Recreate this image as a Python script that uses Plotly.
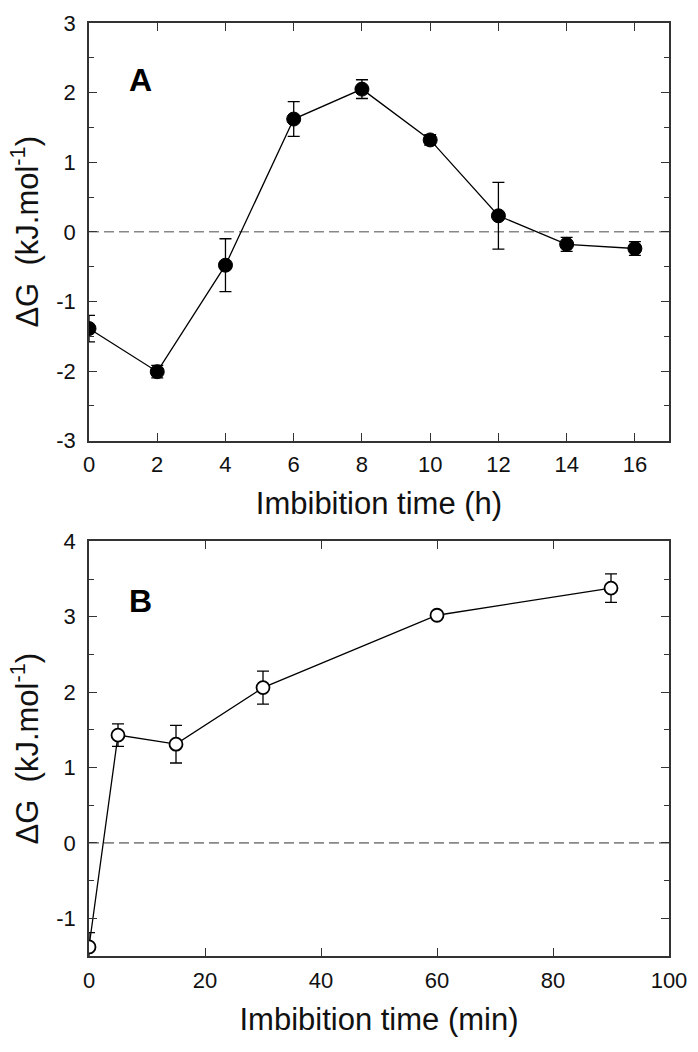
import plotly.graph_objects as go

# ---- Data ----
hours = [0, 2, 4, 6, 8, 10, 12, 14, 16]
dg_hours = [-1.39, -2.01, -0.48, 1.62, 2.05, 1.32, 0.23, -0.18, -0.24]
err_hours = [0.19, 0.09, 0.38, 0.25, 0.135, 0.075, 0.48, 0.10, 0.10]

minutes = [0, 5, 15, 30, 60, 90]
dg_minutes = [-1.38, 1.43, 1.31, 2.06, 3.02, 3.38]
err_minutes = [0.19, 0.15, 0.25, 0.22, 0.03, 0.19]

# tick values / labels (hyphen minus as in the reference)
xticks_a = [0, 2, 4, 6, 8, 10, 12, 14, 16]
yticks_a = [-3, -2, -1, 0, 1, 2, 3]
yticklabels_a = ["-3", "-2", "-1", "0", "1", "2", "3"]
xticks_b = [0, 20, 40, 60, 80, 100]
yticks_b = [-1, 0, 1, 2, 3, 4]
yticklabels_b = ["-1", "0", "1", "2", "3", "4"]

x_title_a = "Imbibition time (h)"
x_title_b = "Imbibition time (min)"
y_title = "\u0394G\u00a0 (kJ.mol<sup>-1</sup>)"

FONT = "Liberation Sans, Arial, sans-serif"
AX = "#333333"

fig = go.Figure()

fig.add_trace(go.Scatter(
    x=hours, y=dg_hours, mode="lines+markers",
    line=dict(color="black", width=1.3),
    marker=dict(symbol="circle", size=14, color="black", line=dict(color="black", width=1)),
    error_y=dict(type="data", array=err_hours, visible=True, color="black", thickness=1.3, width=6),
    xaxis="x", yaxis="y", showlegend=False,
))

fig.add_trace(go.Scatter(
    x=minutes, y=dg_minutes, mode="lines+markers",
    line=dict(color="black", width=1.3),
    marker=dict(symbol="circle", size=13, color="white", line=dict(color="black", width=1.8)),
    error_y=dict(type="data", array=err_minutes, visible=True, color="black", thickness=1.3, width=6),
    xaxis="x2", yaxis="y2", showlegend=False,
))

common = dict(
    showgrid=False, zeroline=False, showline=True, linecolor=AX, linewidth=1.6,
    mirror="ticks", ticks="inside", ticklen=8, tickwidth=1.3, tickcolor=AX,
    tickfont=dict(family=FONT, size=22, color="#111"),
    title_font=dict(family=FONT, size=31, color="#111"),
)
minor_y = dict(ticks="inside", dtick=0.5, ticklen=5, tickwidth=1.2, tickcolor=AX)

fig.update_layout(
    width=698, height=1052,
    margin=dict(l=89, r=20, t=11, b=96),
    paper_bgcolor="white", plot_bgcolor="white",
    xaxis=dict(common, domain=[0, 1], anchor="y", range=[0, 17],
               tickmode="array", tickvals=xticks_a, ticklabelstandoff=3,
               title=dict(text=x_title_a, standoff=16)),
    yaxis=dict(common, domain=[0.5524, 1], anchor="x", range=[-3, 3],
               tickmode="array", tickvals=yticks_a, ticktext=yticklabels_a,
               ticklabelstandoff=7, minor=minor_y,
               title=dict(text=y_title, standoff=8)),
    xaxis2=dict(common, domain=[0, 1], anchor="y2", range=[0, 100],
                tickmode="array", tickvals=xticks_b, ticklabelstandoff=4,
                title=dict(text=x_title_b, standoff=16)),
    yaxis2=dict(common, domain=[0, 0.4444], anchor="x2", range=[-1.5, 4],
                tickmode="array", tickvals=yticks_b, ticktext=yticklabels_b,
                ticklabelstandoff=7, minor=minor_y,
                title=dict(text=y_title, standoff=8)),
    shapes=[
        dict(type="line", xref="x domain", yref="y", x0=0, x1=1, y0=0, y1=0,
             line=dict(color="#888888", width=1.6, dash="10px,5px"), layer="below"),
        dict(type="line", xref="x2 domain", yref="y2", x0=0, x1=1, y0=0, y1=0,
             line=dict(color="#888888", width=1.6, dash="10px,5px"), layer="below"),
    ],
    annotations=[
        dict(text="<b>A</b>", xref="x domain", yref="y domain", x=0.065, y=0.9125,
             showarrow=False, font=dict(family=FONT, size=32, color="black")),
        dict(text="<b>B</b>", xref="x2 domain", yref="y2 domain", x=0.065, y=0.905,
             showarrow=False, font=dict(family=FONT, size=32, color="black")),
    ],
)

fig.write_html("out.html", config={"displayModeBar": False},
               post_script="document.body.style.margin='0';")
